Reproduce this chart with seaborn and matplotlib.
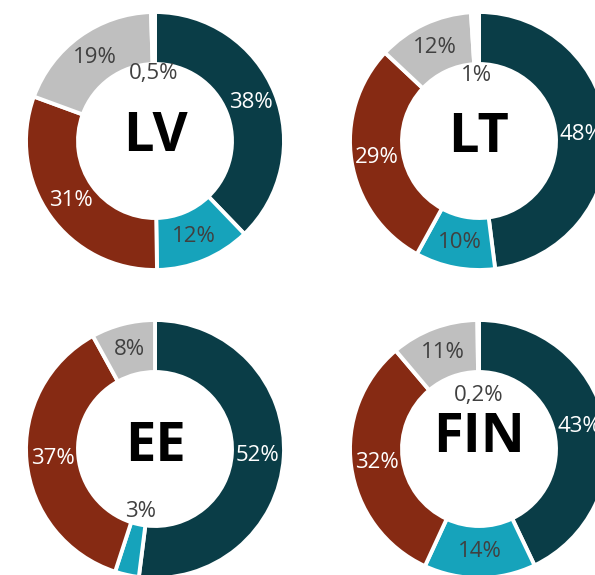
import numpy as np
import matplotlib
matplotlib.use("Agg")
import matplotlib.pyplot as plt
import seaborn as sns

# Shares by country (clockwise from 12 o'clock)
countries = ["LV", "LT", "EE", "FIN"]
lv_shares = [38, 12, 31, 19, 0.5]
lt_shares = [48, 10, 29, 12, 1]
ee_shares = [52, 3, 37, 8]
fin_shares = [43, 14, 32, 11, 0.2]

sns.set_theme(style="white")
plt.rcParams["font.family"] = ["Open Sans", "DejaVu Sans"]

palette = sns.color_palette(["#0A3D47", "#16A3BB", "#862A13", "#BFBFBF", "#FFFFFF"])
label_colors = ["white", "#404040", "white", "#404040", "#404040"]

W, H = 595, 575
fig = plt.figure(figsize=(W / 100, H / 100), dpi=100)
ax = fig.add_axes([0, 0, 1, 1])

R = 129
RING = 52
centers = [(155, 434), (479, 434), (155, 126), (479, 126)]
inner_label_r = [68, 66, 64, 54]
title_dy = [4, 3, 2, 11]


def fmt(v):
    if float(v).is_integer():
        return f"{int(v)}%"
    return f"{v}%".replace(".", ",")


for name, shares, (cx, cy), r_in, dy in zip(
        countries, [lv_shares, lt_shares, ee_shares, fin_shares],
        centers, inner_label_r, title_dy):
    wedges, _ = ax.pie(
        shares, colors=palette[:len(shares)], startangle=90,
        counterclock=False, center=(cx, cy), radius=R, frame=True,
        wedgeprops=dict(width=RING, edgecolor="white", linewidth=2.8),
    )
    for i, (w, v) in enumerate(zip(wedges, shares)):
        mid = np.deg2rad((w.theta1 + w.theta2) / 2)
        # tiny slices get their label inside the hole
        rr = R - RING / 2 if v >= 5 else r_in
        ax.text(cx + rr * np.cos(mid), cy + rr * np.sin(mid), fmt(v),
                ha="center", va="center", fontsize=16,
                color=label_colors[i])
    ax.text(cx, cy + dy, name, ha="center", va="center", fontsize=39,
            fontweight="bold", color="black")

ax.set_xlim(0, W)
ax.set_ylim(0, H)
ax.set_aspect("equal")
ax.axis("off")

fig.savefig("out.png", dpi=100)
